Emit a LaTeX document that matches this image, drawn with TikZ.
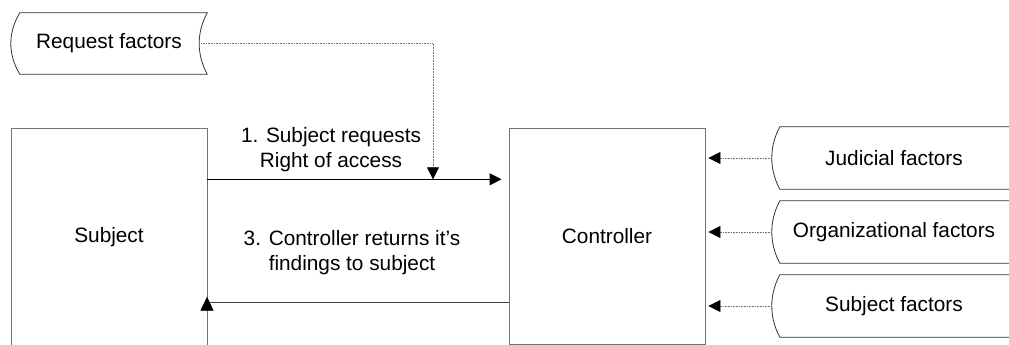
\documentclass[tikz,border=0pt]{standalone}
\usepackage{fontspec}
\setmainfont{Liberation Sans}
\usetikzlibrary{arrows.meta,calc}
\begin{document}
\begin{tikzpicture}[x=1pt,y=-1pt,
  every node/.style={font=\fontsize{20.8}{25.5}\selectfont, inner sep=0pt, align=center},
  box/.style={draw=black!55, line width=0.9pt, minimum width=196pt},
  factor/.style={minimum width=244pt, minimum height=62pt},
  outline/.style={draw=black!80, line width=0.8pt},
  dotline/.style={draw=black!55, line width=0.8pt, dash pattern=on 0.8pt off 0.8pt},
  tip/.style={-{Triangle[length=12pt,width=12pt,color=black]}},
  solidarr/.style={draw=black, line width=0.9pt}
]
\path[use as bounding box, clip] (0,0) rectangle (1009,345);
\fill[white] (0,0) rectangle (1009,345);

% nodes
\node[box, minimum height=218pt] (subj) at (109,237) {Subject};
\node[box, minimum height=216pt] (ctrl) at (607,236) {Controller};
\node[minimum width=196pt, minimum height=61pt] (req) at (109,43.5) {Request factors};
\node[factor] (jud) at (894,158) {Judicial factors};
\node[factor] (org) at (894,232) {Organizational factors};
\node[factor] (sfac) at (894,306) {Subject factors};
\node (lab1) at (331,149.5) {1. Subject requests\\Right of access};
\node (lab3) at (352,252.5) {3. Controller returns it’s\\findings to subject};

% stored-data outline of Request factors
\draw[outline] ([xshift=9pt]req.north west) -- (req.north east)
  .. controls ([xshift=-10.7pt,yshift=-20pt]req.north east) and ([xshift=-10.7pt,yshift=20pt]req.south east) .. (req.south east)
  -- ([xshift=9pt]req.south west)
  .. controls ([xshift=-3pt,yshift=20pt]req.south west) and ([xshift=-3pt,yshift=-20pt]req.north west) .. cycle;

% outlines of factor shapes (right side runs off the page)
\foreach \n in {jud,org,sfac}{
  \draw[outline] (\n.north east) -- ([xshift=8pt]\n.north west)
    .. controls ([xshift=-2.7pt,yshift=-20pt]\n.north west) and ([xshift=-2.7pt,yshift=20pt]\n.south west) .. ([xshift=8pt]\n.south west)
    -- (\n.south east);
}

% connectors
\coordinate (merge) at (433,179.3);
\coordinate (ret) at (207,302.7);
\draw[dotline, tip] ([xshift=-6pt]req.east) -| (merge);
\draw[solidarr, tip] (subj.east |- merge) -- ([xshift=-7pt]ctrl.west |- merge);
\draw[draw=black!75, line width=0.9pt] (ctrl.west |- ret) -- (ret);
\draw[draw=black!75, line width=0.9pt, -{Triangle[length=14pt,width=13pt,color=black]}] ([yshift=-8pt]ret) -- ([yshift=6pt]ret);
\foreach \n in {jud,org,sfac}{
  \draw[dotline, tip] (\n.west) -- ([xshift=3pt]ctrl.east |- \n.west);
}
\end{tikzpicture}
\end{document}
